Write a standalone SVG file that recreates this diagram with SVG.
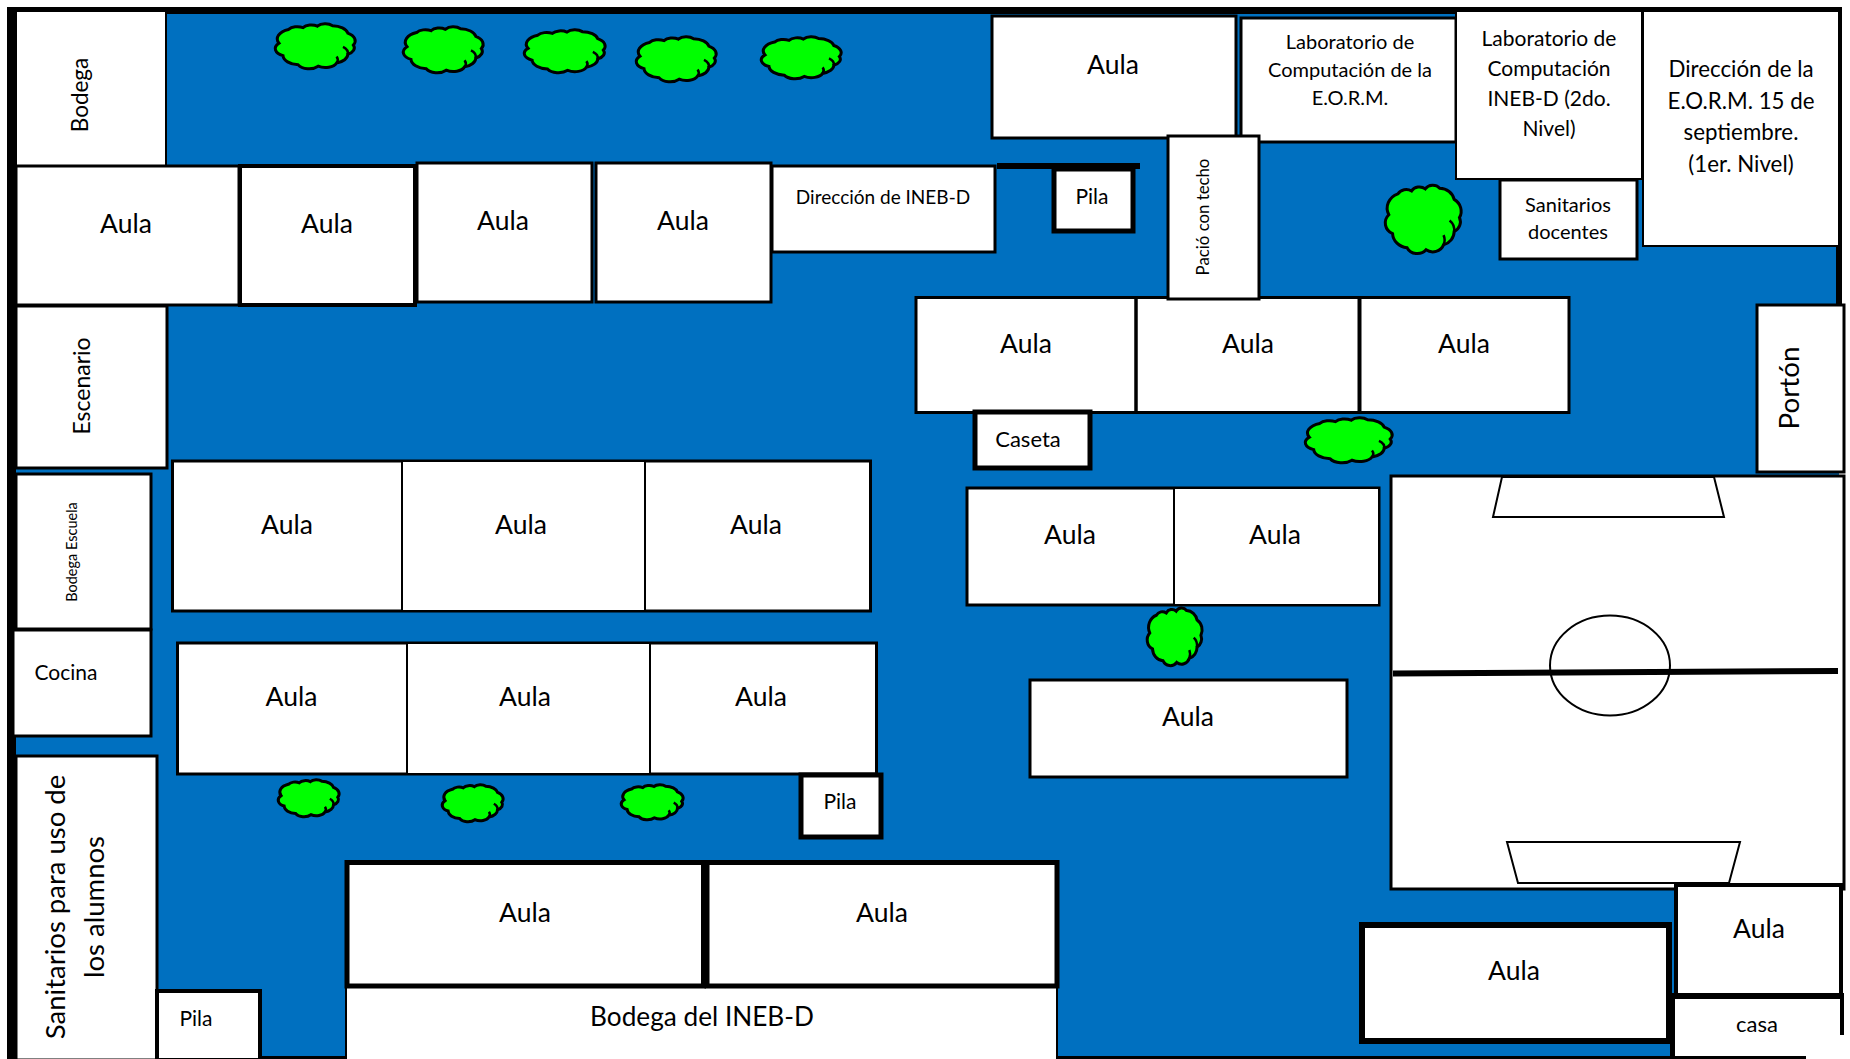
<svg xmlns="http://www.w3.org/2000/svg" width="1850" height="1059" viewBox="0 0 1850 1059">
<style>
rect.b,polygon.b,ellipse.b{fill:#fff;stroke:#000}
.s2{stroke-width:2}.s3{stroke-width:3}.s4{stroke-width:4}.s5{stroke-width:5}.s6{stroke-width:6}
text{font-family:"Lato","Carlito","Liberation Sans",sans-serif;fill:#000;text-anchor:middle}
.a{font-size:26.5px}.f19{font-size:19px}.f20{font-size:20px}.f21{font-size:21px}.f22{font-size:22px}
.tree{fill:#0f0;stroke:#000;stroke-width:3;vector-effect:non-scaling-stroke}
.in{fill:none;stroke:#000;stroke-width:2.5;vector-effect:non-scaling-stroke}
</style>
<defs>
<g id="cloud">
<path class="tree" d="M10 71A17 17 0 0 1 5 44A22 22 0 0 1 17 14A13 13 0 0 1 35 10A12 12 0 0 1 53 7A12 12 0 0 1 72 6A20 20 0 0 1 91 22A20 20 0 0 1 98 48A16 16 0 0 1 91 68A20 20 0 0 1 77 87A15 15 0 0 1 54 94A15 15 0 0 1 29 91A21 21 0 0 1 10 71Z"/>
<path class="in" d="M91 68Q92 58 85 52M77 87Q80 80 77 73"/>
</g>
</defs>
<rect id="ground" x="12" y="10" width="1827" height="1047" fill="#0070C0"/>
<g id="frame" fill="#000">
<rect x="7" y="7" width="1835" height="7"/>
<rect x="7" y="7" width="9" height="1052"/>
<rect x="1836" y="7" width="6" height="300"/>
<rect x="7" y="1056" width="1800" height="3"/>
</g>
<g id="trees">
<use href="#cloud" transform="translate(275 23) scale(.8 .46)"/>
<use href="#cloud" transform="translate(403 26) scale(.8 .47)"/>
<use href="#cloud" transform="translate(524 29) scale(.81 .44)"/>
<use href="#cloud" transform="translate(636 36) scale(.8 .46)"/>
<use href="#cloud" transform="translate(761 36) scale(.8 .43)"/>
<use href="#cloud" transform="translate(1385 184) scale(.76 .7)"/>
<use href="#cloud" transform="translate(1305 417) scale(.87 .46)"/>
<use href="#cloud" transform="translate(1147 607) scale(.55 .59)"/>
<use href="#cloud" transform="translate(278 779) scale(.61 .38)"/>
<use href="#cloud" transform="translate(442 784) scale(.61 .38)"/>
<use href="#cloud" transform="translate(621 784) scale(.62 .36)"/>
</g>
<g id="buildings-west">
<rect class="b s2" x="16" y="11" width="150" height="155"/>
<rect class="b s3" x="16" y="166" width="223" height="139"/>
<rect class="b s4" x="240" y="166" width="175" height="139"/>
<rect class="b s3" x="417" y="163" width="175" height="139"/>
<rect class="b s3" x="596" y="163" width="175" height="139"/>
<rect class="b s3" x="772" y="166" width="223" height="86"/>
<rect class="b s3" x="16" y="306" width="151" height="162"/>
<rect class="b s3" x="16" y="474" width="135" height="155"/>
<rect class="b s3" x="13" y="630" width="138" height="106"/>
<rect class="b s3" x="16" y="756" width="141" height="304"/>
<rect class="b s3" x="172.500" y="461" width="698" height="150"/>
<rect class="b s2" x="402" y="461" width="243" height="150"/>
<rect class="b s3" x="177.500" y="643" width="699" height="131"/>
<rect class="b s2" x="407" y="643" width="243" height="131"/>
<rect class="b s4" x="157" y="991" width="103" height="69"/>
<rect class="b s5" x="801" y="775" width="80" height="62"/>
<rect class="b s2" x="346" y="986" width="711" height="74"/>
<rect class="b s5" x="347" y="862.500" width="356.500" height="123.500"/>
<rect class="b s5" x="707" y="862.500" width="350" height="123.500"/>
</g>
<g id="buildings-centre">
<rect class="b s3" x="992" y="16" width="244" height="122"/>
<rect class="b s3" x="1241" y="18" width="215" height="124"/>
<rect class="b s2" x="1456" y="11" width="186" height="168"/>
<rect class="b s2" x="1643" y="11" width="196" height="235"/>
<rect class="b s3" x="1500" y="180" width="137" height="79"/>
<rect x="997" y="163" width="143" height="6" fill="#000"/>
<rect class="b s5" x="1054" y="169" width="79" height="62"/>
<rect class="b s3" x="916" y="297.500" width="653" height="115"/>
<path d="M1136 297V413" stroke="#000" stroke-width="3.500" fill="none"/>
<path d="M1359.500 297V413" stroke="#000" stroke-width="4" fill="none"/>
<rect class="b s3" x="1168" y="136" width="91" height="163"/>
<rect class="b s5" x="975" y="412" width="115" height="56"/>
<rect class="b s3" x="967" y="488" width="412" height="117"/>
<rect class="b s2" x="1174" y="488" width="205" height="117"/>
<rect class="b s3" x="1030" y="680" width="317" height="97"/>
</g>
<g id="field">
<rect class="b s3" x="1391" y="476" width="453" height="413"/>
<polygon class="b s2" points="1502,477 1714,477 1724,517 1493,517"/>
<ellipse class="b s2" cx="1610" cy="665.5" rx="60" ry="50"/>
<path d="M1393 673.500L1838 671" stroke="#000" stroke-width="6" fill="none"/>
<polygon class="b s2" points="1507,842 1740,842 1729,883 1518,883"/>
<rect class="b s3" x="1757" y="305" width="87" height="167"/>
</g>
<g id="buildings-east">
<rect class="b s6" x="1362" y="925" width="307" height="116"/>
<rect class="b s4" x="1676" y="885" width="165" height="111"/>
<rect x="1672" y="996" width="172" height="64" fill="#fff"/>
<rect x="1672" y="993" width="172" height="6" fill="#000"/>
<rect x="1670" y="996" width="5" height="63" fill="#000"/>
<rect x="1840" y="996" width="4" height="39" fill="#000"/>
<rect x="1675" y="1056" width="131" height="3" fill="#000"/>
</g>
<g id="labels">
<text class="a" x="126" y="233">Aula</text>
<text class="a" x="327" y="233">Aula</text>
<text class="a" x="503" y="230">Aula</text>
<text class="a" x="683" y="230">Aula</text>
<text class="f19" x="883" y="204">Dirección de INEB-D</text>
<text class="a" x="1113" y="74">Aula</text>
<text class="f20"><tspan x="1350" y="49">Laboratorio de</tspan><tspan x="1350" y="77">Computación de la</tspan><tspan x="1350" y="105">E.O.R.M.</tspan></text>
<text class="f21"><tspan x="1549" y="46">Laboratorio de</tspan><tspan x="1549" y="76">Computación</tspan><tspan x="1549" y="106">INEB-D (2do.</tspan><tspan x="1549" y="136">Nivel)</tspan></text>
<text style="font-size:22.300px"><tspan x="1741" y="77">Dirección de la</tspan><tspan x="1741" y="109">E.O.R.M. 15 de</tspan><tspan x="1741" y="140">septiembre.</tspan><tspan x="1741" y="172">(1er. Nivel)</tspan></text>
<text class="f21" x="1092" y="204">Pila</text>
<text class="f20"><tspan x="1568" y="212">Sanitarios</tspan><tspan x="1568" y="239">docentes</tspan></text>
<text style="font-size:16.800px" transform="translate(1209 217) rotate(-90)">Pació con techo</text>
<text class="a" x="1026" y="353">Aula</text>
<text class="a" x="1248" y="353">Aula</text>
<text class="a" x="1464" y="353">Aula</text>
<text class="f22" x="1028" y="447">Caseta</text>
<text style="font-size:27.800px" transform="translate(1799 388) rotate(-90)">Portón</text>
<text class="a" x="1070" y="544">Aula</text>
<text class="a" x="1275" y="544">Aula</text>
<text class="a" x="1188" y="726">Aula</text>
<text class="a" x="1514" y="980">Aula</text>
<text class="a" x="1759" y="938">Aula</text>
<text class="f22" x="1757" y="1032">casa</text>
<text style="font-size:22.500px" transform="translate(88 95) rotate(-90)">Bodega</text>
<text style="font-size:23px" transform="translate(90 386) rotate(-90)">Escenario</text>
<text style="font-size:14.500px" transform="translate(77 552) rotate(-90)">Bodega Escuela</text>
<text class="f21" x="66" y="680">Cocina</text>
<text class="a" x="287" y="534">Aula</text>
<text class="a" x="521" y="534">Aula</text>
<text class="a" x="756" y="534">Aula</text>
<text class="a" x="291.500" y="706">Aula</text>
<text class="a" x="525" y="706">Aula</text>
<text class="a" x="761" y="706">Aula</text>
<text class="f21" x="840" y="809">Pila</text>
<text class="a" x="525" y="922">Aula</text>
<text class="a" x="882" y="922">Aula</text>
<text style="font-size:26.200px" x="702" y="1026">Bodega del INEB-D</text>
<text class="f21" x="196" y="1026">Pila</text>
<text style="font-size:27.500px" transform="translate(65 907) rotate(-90)">Sanitarios para uso de</text>
<text style="font-size:27.500px" transform="translate(104 907) rotate(-90)">los alumnos</text>
</g>
</svg>
